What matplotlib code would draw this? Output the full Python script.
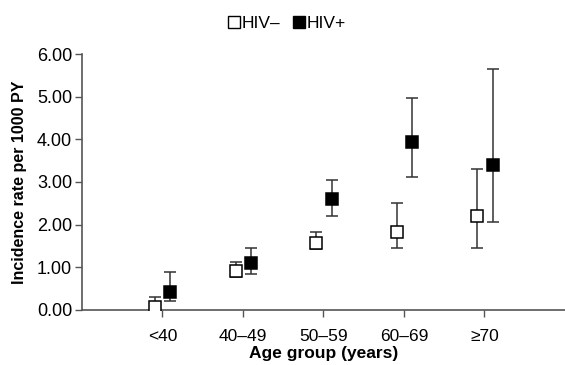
import numpy as np
import matplotlib
matplotlib.use('Agg')
import matplotlib.pyplot as plt
from matplotlib.lines import Line2D

plt.rcParams['font.family'] = ['Liberation Sans', 'DejaVu Sans']

groups = ['<40', '40–49', '50–59', '60–69', '≥70']
neg_rate = [0.07, 0.92, 1.58, 1.82, 2.19]
neg_low = [0.00, 0.76, 1.42, 1.46, 1.46]
neg_high = [0.31, 1.12, 1.82, 2.51, 3.30]
pos_rate = [0.42, 1.10, 2.60, 3.93, 3.40]
pos_low = [0.21, 0.85, 2.21, 3.12, 2.05]
pos_high = [0.88, 1.45, 3.05, 4.98, 5.64]

x = np.arange(1, len(groups) + 1)
axis_col = '#555555'

fig = plt.figure(figsize=(5.65, 3.65), dpi=100)
ax = fig.add_axes([0.145, 0.151, 0.855, 0.701])

def draw(xs, rate, low, high, face):
    rate = np.array(rate)
    err = [rate - np.array(low), np.array(high) - rate]
    ax.errorbar(xs, rate, yerr=err, fmt='none', ecolor='#333333',
                elinewidth=1.1, capsize=4, capthick=1.1, zorder=2)
    ax.plot(xs, rate, ls='none', marker='s', ms=9, mfc=face,
            mec='black', mew=1.1, zorder=3)

draw(x - 0.09, neg_rate, neg_low, neg_high, 'white')
draw(x + 0.1, pos_rate, pos_low, pos_high, 'black')

ax.set_xlim(0, 6)
ax.set_ylim(0, 6)
ax.set_xticks(x)
ax.set_xticklabels(groups, fontsize=12.5)
ax.set_yticks(np.arange(0, 7, 1))
ax.set_yticklabels(['%.2f' % v for v in np.arange(0, 7, 1)], fontsize=13)
ax.tick_params(axis='both', direction='out', length=5, color=axis_col, width=1)
ax.tick_params(axis='x', pad=9)
ax.tick_params(axis='y', pad=2)
for s in ['top', 'right']:
    ax.spines[s].set_visible(False)
for s in ['left', 'bottom']:
    ax.spines[s].set_color(axis_col)
    ax.spines[s].set_linewidth(1.2)

ax.set_xlabel('Age group (years)', fontsize=12.5, fontweight='bold', labelpad=1)
ax.set_ylabel('Incidence rate per 1000 PY', fontsize=11.5, fontweight='bold', labelpad=7)

handles = [Line2D([], [], ls='none', marker='s', ms=8, mfc='white', mec='black', mew=1.0),
           Line2D([], [], ls='none', marker='s', ms=8, mfc='black', mec='black', mew=1.0)]
fig.legend(handles, ['HIV–', 'HIV+'], loc='center', bbox_to_anchor=(0.508, 0.935), ncol=2,
           frameon=False, fontsize=12.5, handlelength=0.7, handletextpad=0.1, columnspacing=0.7)

fig.savefig('out.png', dpi=100)
